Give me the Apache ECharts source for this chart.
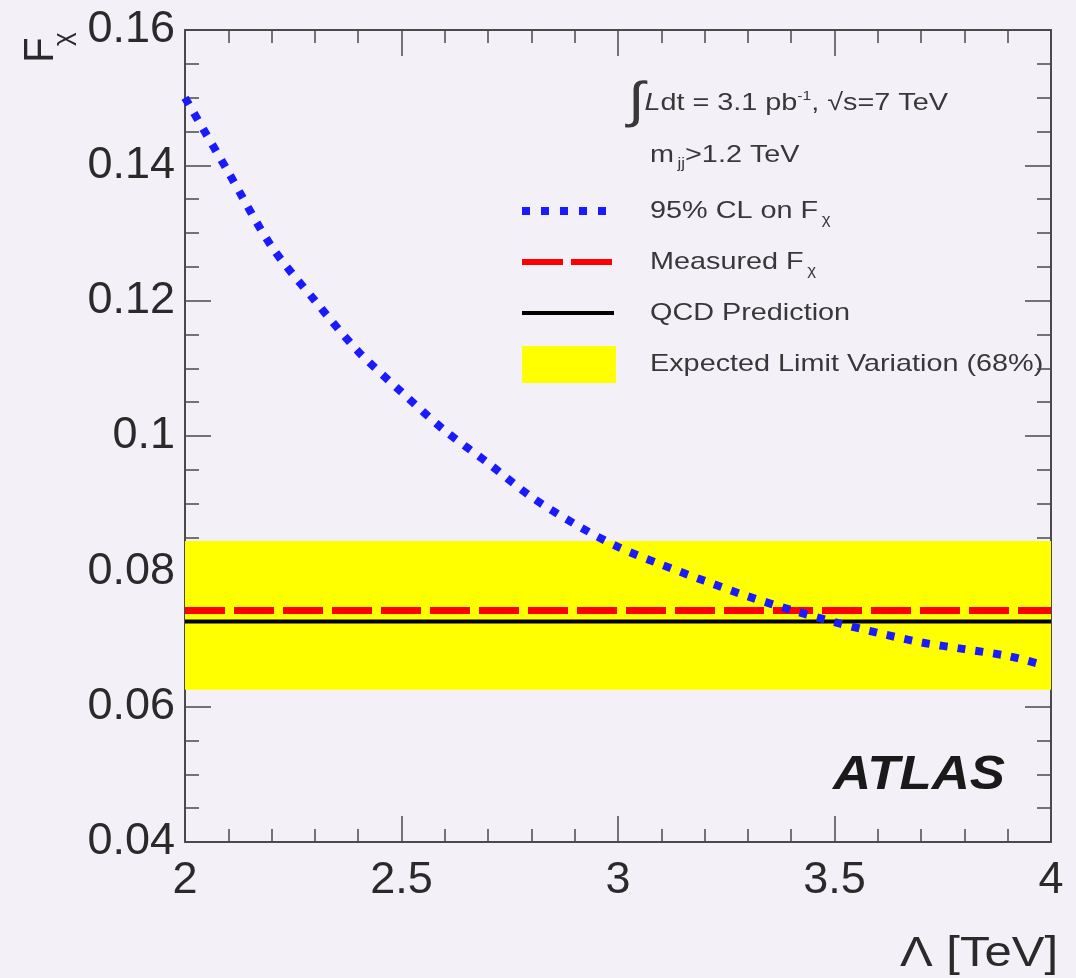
<!DOCTYPE html>
<html>
<head>
<meta charset="utf-8">
<script src="https://cdn.jsdelivr.net/npm/echarts@6/dist/echarts.min.js"></script>
<style>
  html, body { margin: 0; padding: 0; background: #f3f0f8; }
  #chart { width: 1076px; height: 978px; }
</style>
</head>
<body>
<div id="chart"></div>
<script>
// Lambda [TeV] and 95% CL limit on F_chi
const lambdaTeV = [2.0, 2.1, 2.2, 2.3, 2.4, 2.5, 2.6, 2.7, 2.8, 2.9, 3.0,
                   3.1, 3.2, 3.3, 3.4, 3.5, 3.6, 3.7, 3.8, 3.9, 3.98];
const clLimit = [0.150, 0.139, 0.128, 0.120, 0.1125, 0.1065, 0.1008, 0.0960, 0.0910, 0.0870, 0.0836,
                 0.0810, 0.0786, 0.0763, 0.0743, 0.0725, 0.0709, 0.0695, 0.0685, 0.0675, 0.0662];
const measuredF = 0.0742;
const qcdPrediction = 0.0726;
const expectedBand = [0.0625, 0.0845];
const xRange = [2, 4];
const yRange = [0.04, 0.16];
const xTicks = ['2', '2.5', '3', '3.5', '4'];
const yTicks = ['0.04', '0.06', '0.08', '0.1', '0.12', '0.14', '0.16'];

const FONT = '"Liberation Sans", Arial, sans-serif';
const FRAME = '#4a4a4a';
const TXT = '#2a2a2a';
const LEG = '#383838';
const STRETCH = 1.2; // the reference text is drawn wider than plain Arial

function xLabel(v) {
    const i = Math.round((v - xRange[0]) / 0.5);
    return xTicks[i] || '';
}
function yLabel(v) {
    const i = Math.round((v - yRange[0]) / 0.02);
    return yTicks[i] || '';
}

function frameAxis(extra) {
    return Object.assign({
        type: 'value',
        axisLine: { show: true, onZero: false, lineStyle: { color: FRAME, width: 2 } },
        axisTick: { show: true, inside: true, length: 26, lineStyle: { color: FRAME, width: 1.5 } },
        splitLine: { show: false },
        minorSplitLine: { show: false }
    }, extra);
}

function legendText(text, y, rich) {
    return {
        type: 'text', x: textX, y: y, scaleX: STRETCH,
        style: {
            text: text, fontFamily: FONT, fontSize: 24, fill: LEG,
            textAlign: 'left', textVerticalAlign: 'middle',
            rich: rich || {}
        }
    };
}

const chart = echarts.init(document.getElementById('chart'));

const legendX = 522;
const legendW = 92;
const textX = 650;
const legendRows = [211, 262, 313, 364];
const subRich = { sub: { fontSize: 14, fontFamily: FONT, fill: LEG, padding: [18, 0, 0, 3] } };

const option = {
    backgroundColor: '#f3f0f8',
    animation: false,
    grid: { left: 185, right: 25, top: 30, bottom: 136 },
    xAxis: [
        frameAxis({
            min: xRange[0], max: xRange[1], interval: 0.5,
            minorTick: { show: true, splitNumber: 5, length: 13, lineStyle: { color: FRAME, width: 1.5 } },
            axisLabel: {
                formatter: xLabel, margin: 16,
                fontFamily: FONT, fontSize: 45, color: TXT
            }
        }),
        frameAxis({
            position: 'top', min: xRange[0], max: xRange[1], interval: 0.5,
            minorTick: { show: true, splitNumber: 5, length: 13, lineStyle: { color: FRAME, width: 1.5 } },
            axisLabel: { show: false }
        })
    ],
    yAxis: [
        frameAxis({
            min: yRange[0], max: yRange[1], interval: 0.02,
            minorTick: { show: true, splitNumber: 4, length: 14, lineStyle: { color: FRAME, width: 1.5 } },
            axisLabel: {
                formatter: yLabel, margin: 10,
                fontFamily: FONT, fontSize: 45, color: TXT
            }
        }),
        frameAxis({
            position: 'right', min: yRange[0], max: yRange[1], interval: 0.02,
            minorTick: { show: true, splitNumber: 4, length: 14, lineStyle: { color: FRAME, width: 1.5 } },
            axisLabel: { show: false }
        })
    ],
    series: [
        {
            name: 'QCD Prediction',
            type: 'line',
            z: 3,
            showSymbol: false,
            data: [[xRange[0], qcdPrediction], [xRange[1], qcdPrediction]],
            lineStyle: { color: '#000', width: 4 },
            markArea: {
                silent: true,
                itemStyle: { color: '#ffff00' },
                data: [[
                    { xAxis: xRange[0], yAxis: expectedBand[0] },
                    { xAxis: xRange[1], yAxis: expectedBand[1] }
                ]]
            }
        },
        {
            name: 'Measured F',
            type: 'line',
            z: 4,
            showSymbol: false,
            data: [[xRange[0], measuredF], [xRange[1], measuredF]],
            lineStyle: { color: '#ff0000', width: 7, type: [40, 9], cap: 'butt' }
        },
        {
            name: '95% CL on F',
            type: 'line',
            z: 5,
            smooth: 0.3,
            showSymbol: false,
            data: lambdaTeV.map((x, i) => [x, clLimit[i]]),
            lineStyle: { color: '#1a1aff', width: 8, type: [8, 10], cap: 'butt' }
        }
    ],
    graphic: [
        // y axis title F_chi, rotated; subscript drawn as its own piece
        {
            type: 'text', x: 62, y: 63, rotation: Math.PI / 2,
            style: {
                text: 'F', fontFamily: FONT, fontSize: 42, fill: TXT,
                textAlign: 'left', textVerticalAlign: 'bottom'
            }
        },
        {
            type: 'text', x: 77, y: 46, rotation: Math.PI / 2,
            style: {
                text: 'χ', fontFamily: FONT, fontSize: 26, fill: TXT,
                textAlign: 'left', textVerticalAlign: 'bottom'
            }
        },
        // x axis title
        {
            type: 'text', x: 1058, y: 954, scaleX: 1.14,
            style: {
                text: 'Λ [TeV]', fontFamily: FONT, fontSize: 43, fill: TXT,
                textAlign: 'right', textVerticalAlign: 'middle'
            }
        },
        // ATLAS label
        {
            type: 'text', x: 1005, y: 776, scaleX: 1.1,
            style: {
                text: 'ATLAS', fontFamily: FONT, fontSize: 48, fontWeight: 'bold',
                fontStyle: 'italic', fill: '#1a1a1a',
                textAlign: 'right', textVerticalAlign: 'middle'
            }
        },
        // header lines
        {
            type: 'text', x: 628, y: 103, scaleX: STRETCH,
            style: {
                text: '{i|∫}{it|L}dt = 3.1 pb{sup|-1}, √s=7 TeV',
                fontFamily: FONT, fontSize: 24, fill: LEG,
                textAlign: 'left', textVerticalAlign: 'middle',
                rich: {
                    i: { fontSize: 50, fontFamily: FONT, fill: LEG },
                    it: { fontSize: 24, fontStyle: 'italic', fontFamily: FONT, fill: LEG },
                    sup: { fontSize: 13, fontFamily: FONT, fill: LEG, padding: [0, 0, 14, 0] }
                }
            }
        },
        legendText('m{sub|jj}>1.2 TeV', 155, subRich),
        // legend samples
        {
            type: 'line', shape: { x1: legendX, y1: legendRows[0], x2: legendX + legendW, y2: legendRows[0] },
            style: { stroke: '#1a1aff', lineWidth: 8, lineDash: [8, 11] }
        },
        {
            type: 'line', shape: { x1: legendX, y1: legendRows[1], x2: legendX + legendW, y2: legendRows[1] },
            style: { stroke: '#ff0000', lineWidth: 6, lineDash: [41, 8] }
        },
        {
            type: 'line', shape: { x1: legendX, y1: legendRows[2], x2: legendX + legendW, y2: legendRows[2] },
            style: { stroke: '#000', lineWidth: 4 }
        },
        {
            type: 'rect', shape: { x: legendX, y: legendRows[3] - 18, width: legendW + 2, height: 37 },
            style: { fill: '#ffff00' }
        },
        legendText('95% CL on F{sub|χ}', legendRows[0], subRich),
        legendText('Measured F{sub|χ}', legendRows[1], subRich),
        legendText('QCD Prediction', legendRows[2]),
        legendText('Expected Limit Variation (68%)', legendRows[3])
    ]
};

chart.setOption(option);
</script>
</body>
</html>
